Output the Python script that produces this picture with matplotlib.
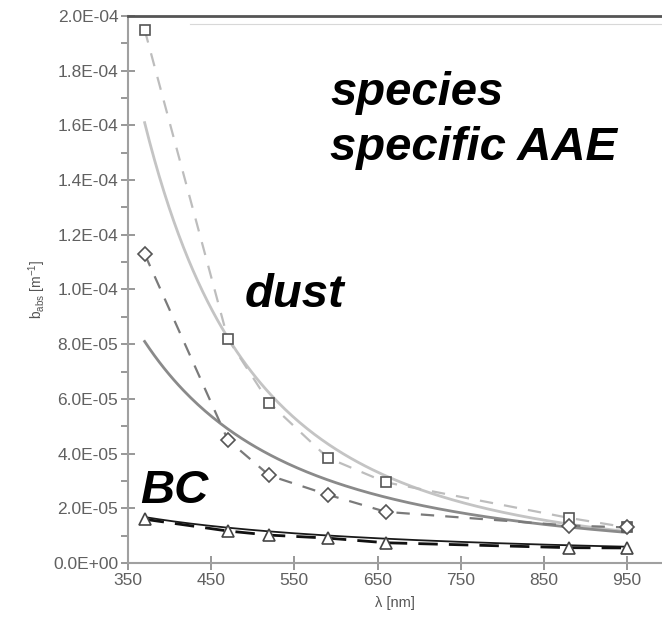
import matplotlib

matplotlib.use("Agg")
import matplotlib.pyplot as plt
import numpy as np
from matplotlib.ticker import FormatStrFormatter, MultipleLocator

plt.rcParams["font.family"] = ["Liberation Sans", "DejaVu Sans"]
plt.rcParams["mathtext.fontset"] = "custom"
plt.rcParams["mathtext.rm"] = "Liberation Sans"

# measured absorption coefficients at the aethalometer wavelengths
wavelengths = [370, 470, 520, 590, 660, 880, 950]
b_total = [1.95e-4, 8.2e-5, 5.85e-5, 3.85e-5, 2.95e-5, 1.65e-5, 1.3e-5]
b_dust = [1.13e-4, 4.5e-5, 3.2e-5, 2.5e-5, 1.87e-5, 1.37e-5, 1.3e-5]
b_bc = [1.6e-5, 1.17e-5, 1.02e-5, 9.1e-6, 7.4e-6, 5.6e-6, 5.5e-6]

# power-law fits b = b370 * (lambda / 370) ** -AAE
fit_b370 = [1.61e-4, 8.1e-5, 1.68e-5]
fit_aae = [2.8, 2.1, 1.1]
fit_colors = ["#c4c4c4", "#8a8a8a", "#1a1a1a"]

x_ticks = [350, 450, 550, 650, 750, 850, 950]

fig = plt.figure(figsize=(6.62, 6.19), dpi=100, facecolor="white")
ax = fig.add_axes([128 / 662, 1 - 563 / 619, 1 - 128 / 662, 547 / 619])

lam = np.linspace(370, 950, 200)
for b370, aae, col in zip(fit_b370, fit_aae, fit_colors):
    ax.plot(lam, b370 * (lam / 370.0) ** (-aae), color=col, lw=2.0 if col != "#1a1a1a" else 1.3,
            zorder=2)

ax.plot(wavelengths, b_total, color="#bdbdbd", lw=1.6, ls=(0, (6, 5)), zorder=3)
ax.plot(wavelengths, b_dust, color="#7a7a7a", lw=1.6, ls=(0, (6, 5)), zorder=3)
ax.plot(wavelengths, b_bc, color="#111111", lw=2.0, ls=(0, (7, 4)), zorder=3)

ax.plot(wavelengths, b_total, ls="none", marker="s", ms=6.5, mfc="white", mec="#555555", mew=1.2, zorder=4)
ax.plot(wavelengths, b_dust, ls="none", marker="D", ms=7, mfc="white", mec="#555555", mew=1.2, zorder=4)
ax.plot(wavelengths, b_bc, ls="none", marker="^", ms=9, mfc="white", mec="#444444", mew=1.2, zorder=4)

ax.set_xlim(350, 992)
ax.set_ylim(0, 2.0e-4)
ax.set_xticks(x_ticks)
ax.yaxis.set_major_locator(MultipleLocator(2e-5))
ax.yaxis.set_minor_locator(MultipleLocator(1e-5))
ax.yaxis.set_major_formatter(FormatStrFormatter("%.1E"))

for side in ["left", "bottom"]:
    ax.spines[side].set_color("#a0a0a0")
    ax.spines[side].set_linewidth(1.5)
ax.spines["right"].set_visible(False)
ax.spines["top"].set_color("#555555")
ax.spines["top"].set_linewidth(2.0)

ax.tick_params(axis="both", which="major", direction="inout", length=10, width=1.3,
               color="#909090", labelsize=12.5, labelcolor="#606060", pad=2)
ax.tick_params(axis="y", which="minor", direction="out", length=5, width=1.3, color="#909090")

# faint frame line just below the top edge
ax.plot([0.116, 1.0], [0.985, 0.985], transform=ax.transAxes, color="#d8d8d8", lw=0.8,
        clip_on=False)

ax.set_xlabel("λ [nm]", fontsize=10.5, color="#555555", labelpad=6)
ax.set_ylabel(r"b$_{\rm abs}$ [m$^{-1}$]", fontsize=10, color="#555555", labelpad=4)

label_kw = dict(fontsize=34, fontweight="bold", fontstyle="italic", color="black")
fig.text(330 / 662, 1 - 105 / 619, "species", **label_kw)
fig.text(330 / 662, 1 - 160 / 619, "specific AAE", **label_kw)
fig.text(245 / 662, 1 - 307 / 619, "dust", **label_kw)
fig.text(140 / 662, 1 - 503 / 619, "BC", **label_kw)

fig.savefig("out.png", dpi=100, facecolor="white")
